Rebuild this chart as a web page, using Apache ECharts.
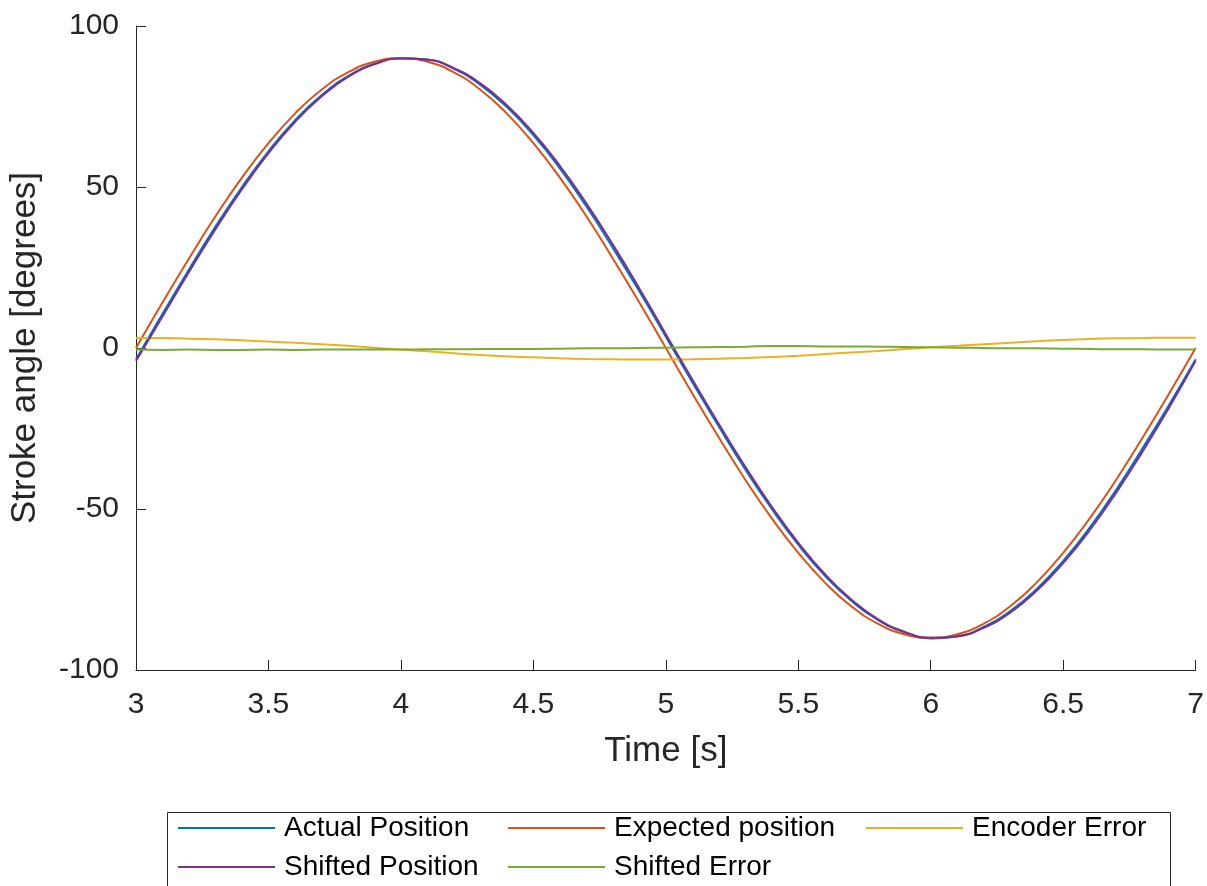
<!DOCTYPE html>
<html>
<head>
<meta charset="utf-8">
<script src="https://cdn.jsdelivr.net/npm/echarts@6/dist/echarts.min.js"></script>
<style>
  html, body { margin: 0; padding: 0; background: #fff; }
  #chart { width: 1207px; height: 886px; }
</style>
</head>
<body>
<div id="chart"></div>
<script>
// time samples, 0.1 s apart
var timeS = [3.0, 3.1, 3.2, 3.3, 3.4, 3.5, 3.6, 3.7, 3.8, 3.9, 4.0,
  4.1, 4.2, 4.3, 4.4, 4.5, 4.6, 4.7, 4.8, 4.9, 5.0,
  5.1, 5.2, 5.3, 5.4, 5.5, 5.6, 5.7, 5.8, 5.9, 6.0,
  6.1, 6.2, 6.3, 6.4, 6.5, 6.6, 6.7, 6.8, 6.9, 7.0]

var actualPos = [-3.5, 10.6, 24.4, 37.7, 50.0, 61.1, 70.7, 78.5, 84.4, 88.3, 90.0,
  89.6, 86.7, 81.7, 74.8, 66.1, 55.8, 44.0, 31.1, 17.6, 3.5,
  -10.6, -24.4, -37.7, -50.0, -61.1, -70.7, -78.5, -84.4, -88.3, -90.2,
  -89.6, -86.6, -81.7, -74.8, -66.1, -55.8, -44.0, -31.1, -17.6, -3.5]

var expectedPos = [0, 14.1, 27.8, 40.9, 52.9, 63.6, 72.8, 80.2, 85.6, 88.9, 90.0,
  88.9, 85.6, 80.2, 72.8, 63.6, 52.9, 40.9, 27.8, 14.1, 0,
  -14.1, -27.8, -40.9, -52.9, -63.6, -72.8, -80.2, -85.6, -88.9, -90.0,
  -88.9, -85.6, -80.2, -72.8, -63.6, -52.9, -40.9, -27.8, -14.1, 0]

var encoderErr = [3.1, 3.1, 2.9, 2.7, 2.4, 2.0, 1.6, 1.2, 0.7, 0.1, -0.5,
  -1.0, -1.6, -2.2, -2.6, -2.9, -3.2, -3.4, -3.5, -3.6, -3.6,
  -3.5, -3.3, -3.1, -2.8, -2.4, -1.9, -1.4, -0.9, -0.3, 0.2,
  0.7, 1.2, 1.6, 2.1, 2.5, 2.8, 3.0, 3.1, 3.2, 3.2]

var shiftedPos = [-4.0, 9.8, 23.6, 36.9, 49.3, 60.5, 70.2, 78.1, 84.2, 88.1, 89.9,
  89.5, 86.9, 82.2, 75.4, 66.8, 56.6, 44.9, 32.1, 18.5, 4.3,
  -9.8, -23.6, -36.9, -49.3, -60.5, -70.2, -78.1, -84.2, -88.1, -90.0,
  -89.5, -86.9, -82.2, -75.4, -66.8, -56.6, -44.9, -32.1, -18.5, -4.0]

var shiftedErr = [-0.5, -0.6, -0.5, -0.6, -0.6, -0.5, -0.6, -0.5, -0.5, -0.5, -0.5,
  -0.4, -0.4, -0.3, -0.3, -0.3, -0.2, -0.1, -0.1, 0.0, 0.1,
  0.2, 0.3, 0.4, 0.6, 0.6, 0.5, 0.5, 0.4, 0.3, 0.2,
  0.1, 0.0, -0.1, -0.1, -0.2, -0.3, -0.4, -0.4, -0.5, -0.5]

var seriesNames = ['Actual Position', 'Expected position', 'Encoder Error', 'Shifted Position', 'Shifted Error']
var seriesColors = ['#0072BD', '#D95319', '#EDB120', '#7E2F8E', '#77AC30']
var seriesValues = [actualPos, expectedPos, encoderErr, shiftedPos, shiftedErr]

var axisColor = '#262626'
var font = 'Liberation Sans, Arial, sans-serif'

function pairs(vals) {
  return vals.map(function (v, i) { return [timeS[i], v] })
}

var chart = echarts.init(document.getElementById('chart'))

// one legend per column, like matlab's NumColumns layout
var legendBase = {
  orient: 'vertical',
  top: 813,
  padding: 0,
  icon: 'rect',
  itemWidth: 97,
  itemHeight: 2,
  itemGap: 9,
  selectedMode: false,
  textStyle: { fontFamily: font, fontSize: 28, color: '#000', lineHeight: 30, padding: [0, 0, 0, 4] }
}

chart.setOption({
  backgroundColor: '#fff',
  animation: false,
  grid: { left: 136, right: 10, top: 26, bottom: 216 },
  graphic: [{
    type: 'rect',
    shape: { x: 167.5, y: 812.5, width: 1003, height: 80 },
    style: { fill: 'none', stroke: axisColor, lineWidth: 1 }
  }],
  legend: [
    Object.assign({}, legendBase, { left: 178, data: ['Actual Position', 'Shifted Position'] }),
    Object.assign({}, legendBase, { left: 508, data: ['Expected position', 'Shifted Error'] }),
    Object.assign({}, legendBase, { left: 866, data: ['Encoder Error'] })
  ],
  xAxis: {
    type: 'value',
    min: 3,
    max: 7,
    interval: 0.5,
    name: 'Time [s]',
    nameLocation: 'middle',
    nameGap: 64,
    nameTextStyle: { fontFamily: font, fontSize: 35, color: axisColor },
    axisLine: { show: true, onZero: false, lineStyle: { color: axisColor, width: 1 } },
    axisTick: { show: true, inside: true, length: 10, lineStyle: { color: axisColor } },
    axisLabel: { fontFamily: font, fontSize: 30, color: axisColor, margin: 20 },
    splitLine: { show: false }
  },
  yAxis: {
    type: 'value',
    min: -100,
    max: 100,
    interval: 50,
    name: 'Stroke angle [degrees]',
    nameLocation: 'middle',
    nameGap: 93,
    nameTextStyle: { fontFamily: font, fontSize: 35, color: axisColor },
    axisLine: { show: true, lineStyle: { color: axisColor, width: 1 } },
    axisTick: { show: true, inside: true, length: 10, lineStyle: { color: axisColor } },
    axisLabel: { fontFamily: font, fontSize: 30, color: axisColor, margin: 17 },
    splitLine: { show: false }
  },
  series: seriesNames.map(function (name, i) {
    return {
      name: name,
      type: 'line',
      data: pairs(seriesValues[i]),
      smooth: true,
      showSymbol: false,
      symbol: 'none',
      color: seriesColors[i],
      lineStyle: { width: 2, color: seriesColors[i] }
    }
  })
})
</script>
</body>
</html>
